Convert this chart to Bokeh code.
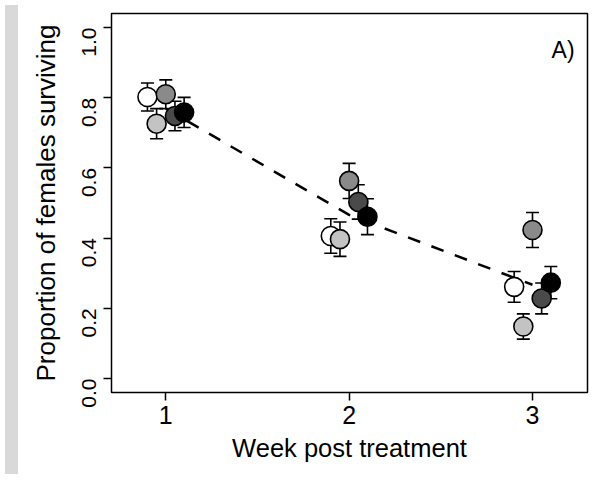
import math
from bokeh.plotting import figure
from bokeh.layouts import row
from bokeh.models import (ColumnDataSource, FixedTicker, PrintfTickFormatter,
                          Label, Range1d, Div)
from bokeh.embed import file_html
from bokeh.resources import INLINE

# ---- data ----
weeks = [1, 2, 3]
dodge = [-0.1, -0.05, 0.0, 0.05, 0.1]
series_names = ["group1", "group2", "group3", "group4", "group5"]
series_colors = ["#ffffff", "#c3c3c3", "#8a8a8a", "#4a4a4a", "#000000"]

group1 = [0.802, 0.406, 0.261]
group2 = [0.726, 0.397, 0.148]
group3 = [0.810, 0.563, 0.423]
group4 = [0.748, 0.503, 0.228]
group5 = [0.758, 0.461, 0.273]

err1 = [0.040, 0.049, 0.044]
err2 = [0.043, 0.049, 0.036]
err3 = [0.041, 0.050, 0.050]
err4 = [0.042, 0.049, 0.044]
err5 = [0.043, 0.051, 0.046]

mean_survival = [0.769, 0.466, 0.267]

y_ticks = [0.0, 0.2, 0.4, 0.6, 0.8, 1.0]
x_ticks = [1, 2, 3]

x_title = "Week post treatment"
y_title = "Proportion of females surviving"
panel_tag = "A)"

values = [group1, group2, group3, group4, group5]
errors = [err1, err2, err3, err4, err5]

FONT = "Liberation Sans"

p = figure(width=569, height=469, output_backend="svg", toolbar_location=None,
           x_range=Range1d(0.704, 3.30), y_range=Range1d(-0.04, 1.04),
           min_border_left=88, min_border_right=5, min_border_top=13,
           min_border_bottom=77)
p.background_fill_color = "white"
p.border_fill_color = "white"
p.outline_line_color = "black"
p.outline_line_width = 1.5
p.xgrid.visible = False
p.ygrid.visible = False

sources = []
for vals, errs, off in zip(values, errors, dodge):
    xs = [w + off for w in weeks]
    lo = [v - e for v, e in zip(vals, errs)]
    hi = [v + e for v, e in zip(vals, errs)]
    sources.append(ColumnDataSource(dict(x=xs, y=vals, lo=lo, hi=hi)))

# error bars
for src in sources:
    p.segment(x0="x", y0="lo", x1="x", y1="hi", source=src,
              line_color="black", line_width=1.6)
    p.scatter(x="x", y="lo", source=src, marker="dash", size=13,
              line_color="black", line_width=1.6)
    p.scatter(x="x", y="hi", source=src, marker="dash", size=13,
              line_color="black", line_width=1.6)

# mean dashed line
p.line(x=weeks, y=mean_survival, line_color="black", line_width=2.5,
       line_dash="13 12")

# points
for src, col in zip(sources, series_colors):
    p.scatter(x="x", y="y", source=src, marker="circle", size=19,
              fill_color=col, line_color="black", line_width=1.6)

# axes
p.xaxis.ticker = FixedTicker(ticks=x_ticks)
p.yaxis.ticker = FixedTicker(ticks=y_ticks)
p.yaxis.formatter = PrintfTickFormatter(format="%.1f")
for ax in (p.xaxis[0], p.yaxis[0]):
    ax.axis_line_color = None
    ax.major_tick_line_color = "black"
    ax.major_tick_line_width = 1.5
    ax.major_tick_out = 8
    ax.major_tick_in = 0
    ax.minor_tick_line_color = None
    ax.major_label_text_font = FONT
    ax.major_label_text_color = "black"
    ax.axis_label_text_font = FONT
    ax.axis_label_text_font_style = "normal"
    ax.axis_label_text_color = "black"

p.xaxis.major_label_text_font_size = "25px"
p.yaxis.major_label_text_font_size = "21px"
p.xaxis.axis_label = x_title
p.yaxis.axis_label = y_title
p.xaxis.axis_label_text_font_size = "25.5px"
p.yaxis.axis_label_text_font_size = "26px"
p.yaxis.major_label_orientation = math.pi / 2
p.xaxis.major_label_standoff = 5
p.yaxis.major_label_standoff = 14
p.xaxis.axis_label_standoff = 7
p.yaxis.axis_label_standoff = 12

p.add_layout(Label(x=3.167, y=0.936, text=panel_tag, text_font=FONT,
                   text_font_size="23px", text_color="black",
                   text_align="center", text_baseline="alphabetic"))

band = Div(width=13, height=469, styles={"background-color": "#d9d9d9"})
layout = row(band, p, spacing=0)

open("out.html", "w").write(file_html(layout, INLINE))
